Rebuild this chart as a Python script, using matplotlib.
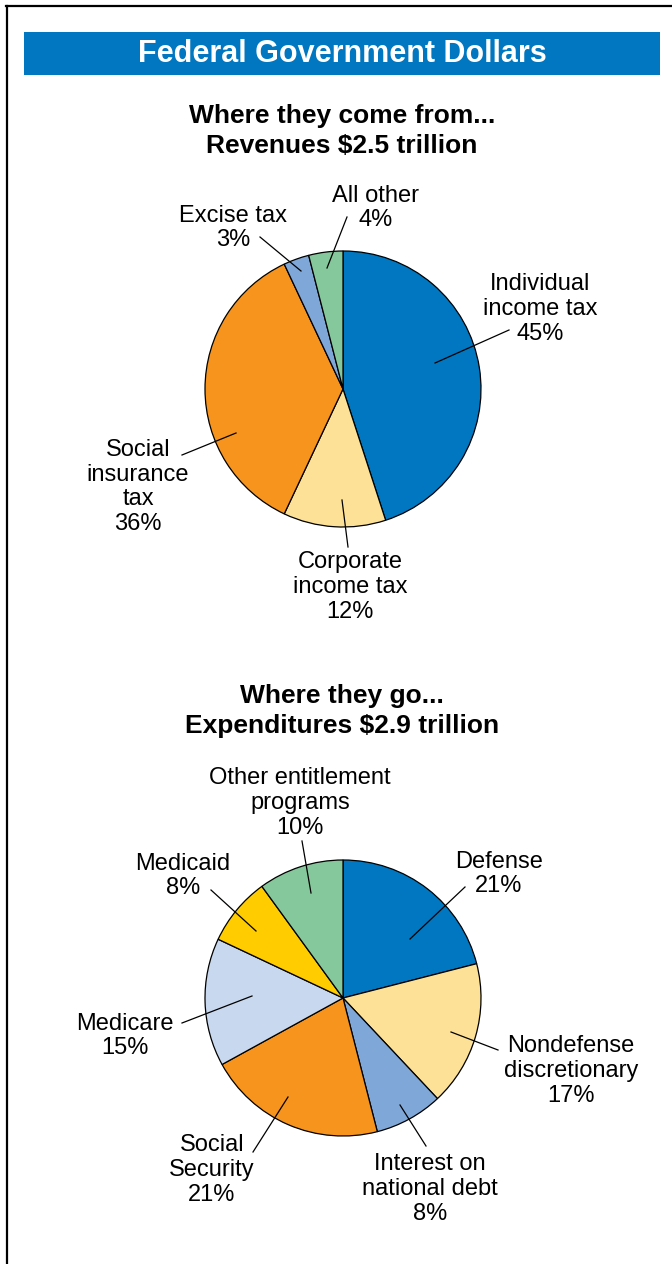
import matplotlib
matplotlib.use("Agg")
import matplotlib.pyplot as plt
from matplotlib.patches import Rectangle
from matplotlib.lines import Line2D

plt.rcParams['font.family'] = ['Liberation Sans', 'DejaVu Sans']

# ---------------- data ----------------
title = "Federal Government Dollars"
rev_title = "Where they come from...\nRevenues $2.5 trillion"
rev_labels = ["Individual\nincome tax", "Corporate\nincome tax", "Social\ninsurance\ntax",
              "Excise tax", "All other"]
rev_values = [45, 12, 36, 3, 4]
rev_colors = ["#0077C0", "#FDE196", "#F7941E", "#7FA8D9", "#85C89B"]

exp_title = "Where they go...\nExpenditures $2.9 trillion"
exp_labels = ["Defense", "Nondefense\ndiscretionary", "Interest on\nnational debt",
              "Social\nSecurity", "Medicare", "Medicaid", "Other entitlement\nprograms"]
exp_values = [21, 17, 8, 21, 15, 8, 10]
exp_colors = ["#0077C0", "#FDE196", "#7FA8D9", "#F7941E", "#C8D8EE", "#FFCC00", "#85C89B"]

# ---------------- layout (pixel coordinates, y from top) ----------------
W, H = 672, 1264
rev_center, rev_radius = (343, 389), 138
exp_center, exp_radius = (343, 998), 138

rev_text_pos = [(540, 309), (350, 587), (138, 487), (233, 228), (376, 208)]
rev_leaders = [[(435, 363), (509, 330)], [(342, 500), (348, 547)], [(236, 433), (182, 455)],
               [(301, 271), (260, 237)], [(327, 268), (347, 217)]]
exp_text_pos = [(499, 874), (571, 1071), (430, 1189), (212, 1170), (125, 1036),
                (183, 876), (300, 803)]
exp_leaders = [[(410, 939), (465, 887)], [(451, 1032), (498, 1050)], [(400, 1105), (426, 1146)],
               [(288, 1097), (253, 1152)], [(252, 996), (182, 1023)], [(256, 931), (211, 890)],
               [(311, 893), (302, 841)]]


def Y(y):
    return H - y


fig = plt.figure(figsize=(W / 100, H / 100), dpi=100)
ax = fig.add_axes([0, 0, 1, 1])


def draw_pie(values, colors, center, radius):
    ax.pie(values, colors=colors, startangle=90, counterclock=False,
           center=(center[0], Y(center[1])), radius=radius, frame=True,
           wedgeprops=dict(edgecolor="black", linewidth=0.9))


draw_pie(rev_values, rev_colors, rev_center, rev_radius)
draw_pie(exp_values, exp_colors, exp_center, exp_radius)


def draw_labels(labels, values, positions, leaders):
    for lab, v, (x, y), seg in zip(labels, values, positions, leaders):
        ax.text(x, Y(y), f"{lab}\n{v}%", ha="center", va="center",
                multialignment="center", fontsize=17, linespacing=1.16, color="black")
        ax.add_line(Line2D([seg[0][0], seg[1][0]], [Y(seg[0][1]), Y(seg[1][1])],
                           color="black", lw=0.9))


draw_labels(rev_labels, rev_values, rev_text_pos, rev_leaders)
draw_labels(exp_labels, exp_values, exp_text_pos, exp_leaders)

# title bar
ax.add_patch(Rectangle((24, Y(75)), 636, 43, facecolor="#0077C0", edgecolor="none"))
ax.text(342, Y(54), title, ha="center", va="center", color="white",
        fontsize=22, fontweight="bold")

# subtitles
ax.text(342, Y(131), rev_title, ha="center", va="center", fontsize=19,
        fontweight="bold", linespacing=1.33)
ax.text(342, Y(711), exp_title, ha="center", va="center", fontsize=19,
        fontweight="bold", linespacing=1.33)

# frame
ax.add_line(Line2D([6, W], [Y(6), Y(6)], color="black", lw=1.6))
ax.add_line(Line2D([7, 7], [Y(6), 0], color="black", lw=1.6))

ax.set_xlim(0, W)
ax.set_ylim(0, H)
ax.set_aspect("auto")
ax.axis("off")

fig.savefig("out.png", dpi=100)
